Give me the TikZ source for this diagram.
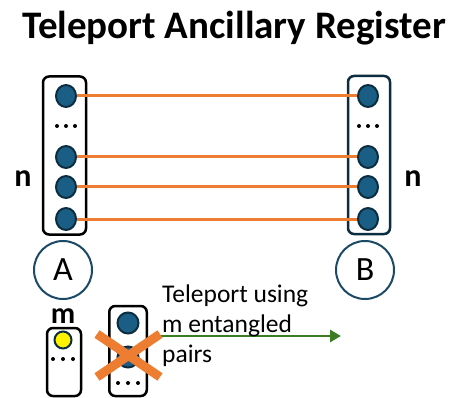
\documentclass[tikz,border=0pt]{standalone}
\usepackage{fontspec}
\setmainfont{Carlito}
\usetikzlibrary{arrows.meta,shapes.geometric}
\definecolor{qblue}{HTML}{1B5E85}
\definecolor{qedge}{HTML}{0C2D40}
\definecolor{ringc}{HTML}{1B4A66}
\definecolor{orng}{HTML}{ED7D31}
\definecolor{grn}{HTML}{3B7D23}
\tikzset{
  regbox/.style={draw=black, line width=2.5pt, rounded corners=6pt, inner sep=0pt},
  qubit/.style={ellipse, draw=qedge, fill=qblue, line width=2pt, minimum width=20pt, minimum height=22pt, inner sep=0pt},
  link/.style={draw=orng, line width=3pt},
  site/.style={circle, draw=ringc, line width=2pt, minimum size=58pt, inner sep=0pt, font=\fontsize{34}{40}\selectfont},
  lbl/.style={font=\fontsize{32}{38}\selectfont\bfseries, anchor=base, inner sep=0pt},
  cross/.style={draw=orng, line width=9pt},
  go/.style={draw=grn, line width=2.8pt, -{Triangle[length=11pt,width=12pt]}},
}
\begin{document}
\begin{tikzpicture}[x=1pt,y=-1pt]
\useasboundingbox (0,0) rectangle (452,398);
% title
\node[font=\fontsize{39}{46}\selectfont\bfseries, anchor=base, inner sep=0pt] (title) at (234,39) {Teleport Ancillary Register};
% registers
\node[regbox, minimum width=43pt, minimum height=158pt] (RA) at (64.5,155.5) {};
\node[regbox, draw=qedge, minimum width=42pt, minimum height=158pt] (RB) at (369,155) {};
% qubits
\foreach \i/\y in {1/96,2/157,3/187,4/219}{
  \node[qubit] (a\i) at (66,\y) {};
  \node[qubit] (b\i) at (368,\y) {};
  \draw[link] (a\i) -- (b\i);
}
\foreach \dx in {-9,0,9}{
  \fill (66+\dx,126) circle (2pt);
  \fill (368+\dx,126) circle (2pt);
}
% labels
\node[lbl] (nA) at (23,186) {n};
\node[lbl] (nB) at (413,186) {n};
\node[site] (A) at (63,270) {A};
\node[site] (B) at (365,270) {B};
% small ancilla register
\node[lbl, font=\fontsize{30}{36}\selectfont\bfseries] (m) at (63,323) {m};
\node[regbox, minimum width=34pt, minimum height=68pt] (MS) at (64,362) {};
\node[qubit, fill=yellow, minimum width=17pt, minimum height=17pt] (y1) at (63,340) {};
\foreach \dx in {-10,0,10}{ \fill (63+\dx,359) circle (2pt); }
% crossed register
\node[regbox, minimum width=37.5pt, minimum height=90pt] (CS) at (128,351) {};
\node[qubit, minimum width=21pt, minimum height=21pt] (c1) at (128,323) {};
\node[qubit, minimum width=21pt, minimum height=21pt] (c2) at (128,357) {};
\foreach \dx in {-10,0,10}{ \fill (128+\dx,383) circle (2pt); }
% arrow and text
\coordinate (as) at (158,336);
\coordinate (ae) at (341,336);
\draw[go] (as) -- (ae);
\node[anchor=base west, align=left, inner sep=0pt, font=\fontsize{25.5}{30}\selectfont] (txt) at (162,362) {Teleport using\\m entangled\\pairs};
% cross
\coordinate (x1) at (97,334);
\coordinate (x2) at (160,377);
\coordinate (x3) at (97,377);
\coordinate (x4) at (160,334);
\draw[cross] (x1) -- (x2) (x3) -- (x4);
\end{tikzpicture}
\end{document}
